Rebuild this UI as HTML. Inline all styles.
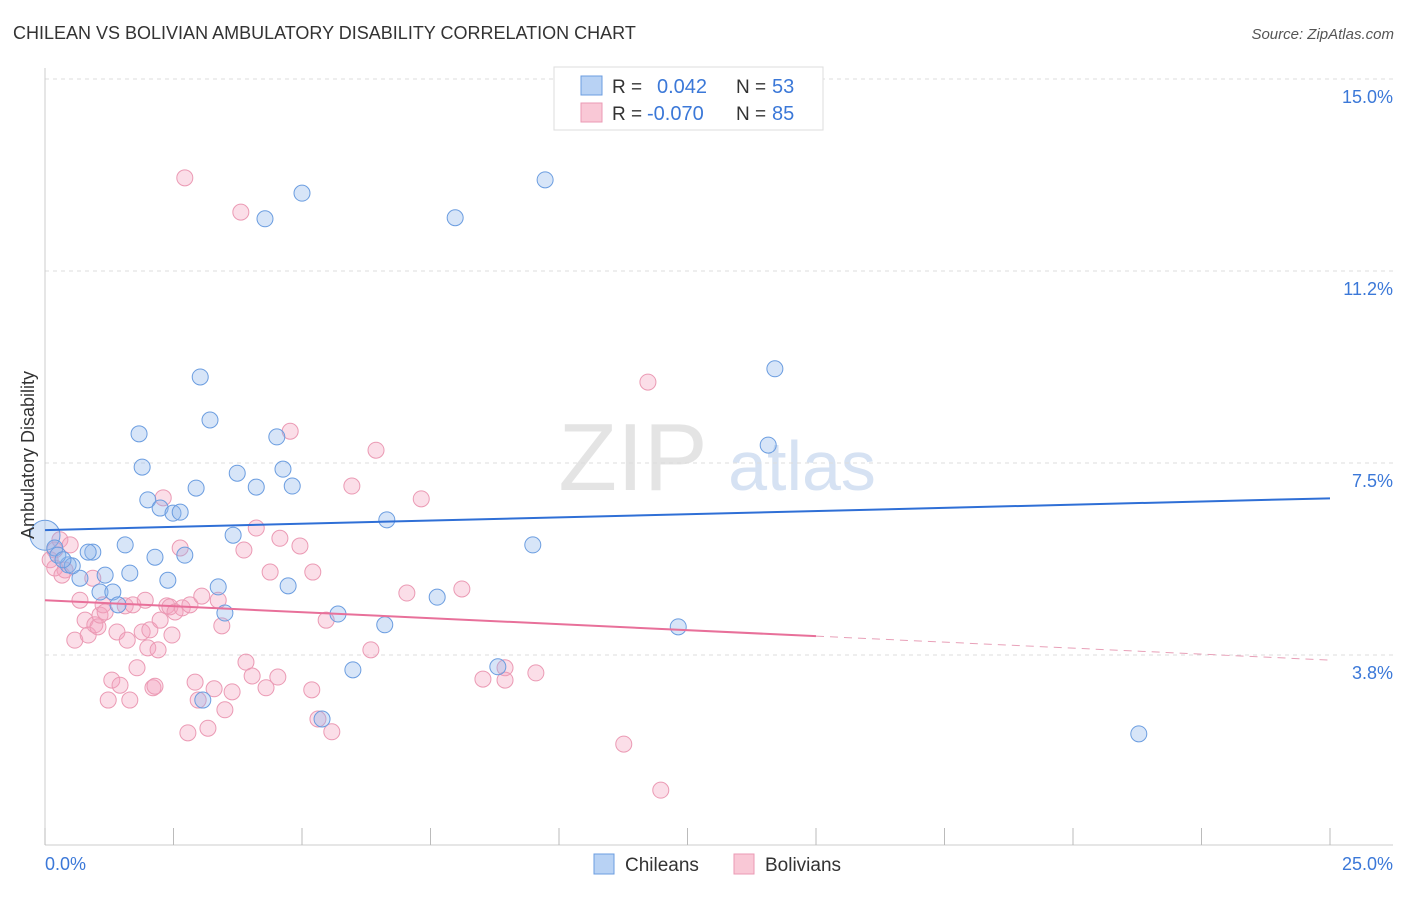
<!DOCTYPE html>
<html><head><meta charset="utf-8"><style>
body{margin:0;background:#fff;font-family:"Liberation Sans",sans-serif}
svg text{font-family:"Liberation Sans",sans-serif}
</style></head><body>
<svg id="chart" width="1406" height="892" xmlns="http://www.w3.org/2000/svg">
<text x="13" y="39" font-size="18" fill="#333">CHILEAN VS BOLIVIAN AMBULATORY DISABILITY CORRELATION CHART</text>
<text x="1394" y="39" font-size="15" font-style="italic" fill="#555" text-anchor="end">Source: ZipAtlas.com</text>
<text x="633" y="490" font-size="96" font-family="Liberation Serif" fill="#e4e4e4" text-anchor="middle">ZIP</text>
<text x="802" y="490" font-size="70" fill="#d6e2f3" text-anchor="middle">atlas</text>
<g id="grid"></g><g id="axes"></g><g id="pts"></g><g id="trend"></g>
<text transform="translate(34,455) rotate(-90)" font-size="18" fill="#333" text-anchor="middle">Ambulatory Disability</text>
<text x="45" y="870" font-size="18" fill="#3b78d8">0.0%</text>
<text x="1393" y="870" font-size="18" fill="#3b78d8" text-anchor="end">25.0%</text>
<g>
<rect x="554" y="67" width="269" height="63" fill="#fff" stroke="#ddd"/>
<rect x="581" y="76" width="21" height="19" fill="#b8d2f4" stroke="#6b9de0"/>
<rect x="581" y="103" width="21" height="19" fill="#f9c8d6" stroke="#eb9ab4"/>
<text x="612" y="93" font-size="19" fill="#333">R =</text><text x="657" y="93" font-size="20" fill="#3b78d8">0.042</text>
<text x="736" y="93" font-size="19" fill="#333">N =</text><text x="772" y="93" font-size="20" fill="#3b78d8">53</text>
<text x="612" y="120" font-size="19" fill="#333">R =</text><text x="647" y="120" font-size="20" fill="#3b78d8">-0.070</text>
<text x="736" y="120" font-size="19" fill="#333">N =</text><text x="772" y="120" font-size="20" fill="#3b78d8">85</text>
</g>
<g>
<rect x="594" y="854" width="20" height="20" fill="#b8d2f4" stroke="#6b9de0"/>
<text x="625" y="871" font-size="19" fill="#333">Chileans</text>
<rect x="734" y="854" width="20" height="20" fill="#f9c8d6" stroke="#eb9ab4"/>
<text x="765" y="871" font-size="19" fill="#333">Bolivians</text>
</g>
</svg>
<script>
const yTicks=[3.75,7.5,11.25,15];
const yTickLabels=["3.8%","7.5%","11.2%","15.0%"];
const xTicks=[0,2.5,5,7.5,10,12.5,15,17.5,20,22.5,25];
const chX=[0,0.19,0.45,0.68,0.93,1.07,1.17,1.32,1.42,1.56,1.65,1.83,1.89,2.00,2.14,2.24,2.39,2.49,2.63,2.72,2.94,3.02,3.07,3.21,3.37,3.50,3.66,3.74,4.11,4.28,4.51,4.63,4.73,4.81,5.00,5.39,5.70,5.99,6.61,6.65,7.63,7.98,8.81,9.49,9.73,12.32,14.07,14.20,21.28,0.25,0.53,0.35,0.84];
const chY=[6.09,5.84,5.51,5.25,5.76,4.98,5.31,4.98,4.73,5.90,5.35,8.07,7.42,6.78,5.66,6.62,5.21,6.52,6.54,5.70,7.01,9.18,2.87,8.34,5.08,4.57,6.09,7.30,7.03,12.27,8.01,7.38,5.10,7.05,12.77,2.50,4.55,3.46,4.34,6.39,4.88,12.29,3.52,5.90,13.03,4.30,7.85,9.34,2.21,5.70,5.49,5.61,5.76];
const boX=[0.10,0.19,0.29,0.39,0.49,0.58,0.68,0.78,0.84,0.93,0.97,1.03,1.07,1.13,1.17,1.23,1.30,1.40,1.46,1.56,1.60,1.65,1.71,1.79,1.89,1.95,2.00,2.04,2.10,2.14,2.20,2.24,2.30,2.37,2.43,2.47,2.53,2.63,2.67,2.72,2.78,2.82,2.92,2.98,3.05,3.17,3.29,3.37,3.44,3.50,3.64,3.81,3.87,3.91,4.03,4.11,4.30,4.38,4.53,4.57,4.77,4.96,5.19,5.21,5.31,5.47,5.58,5.97,6.34,6.44,7.04,7.32,8.11,8.52,8.95,8.95,9.55,11.26,11.73,11.98,0.19,0.33];
const boY=[5.61,5.80,6.00,5.41,5.90,4.04,4.82,4.43,4.14,5.25,4.34,4.30,4.53,4.73,4.59,2.87,3.26,4.20,3.16,4.71,4.04,2.87,4.73,3.50,4.20,4.82,3.89,4.24,3.11,3.14,3.85,4.43,6.82,4.71,4.69,4.14,4.59,5.84,4.67,13.07,2.23,4.73,3.22,2.87,4.90,2.32,3.09,4.82,4.32,2.68,3.03,12.40,5.80,3.61,3.34,6.23,3.11,5.37,3.32,6.03,8.12,5.88,3.07,5.37,2.50,4.43,2.25,7.05,3.85,7.75,4.96,6.80,5.04,3.28,3.50,3.26,3.40,2.01,9.08,1.11,5.45,5.31];
const blueTrend=[6.19,6.81];
const pinkTrend=[4.82,3.65];
const NS="http://www.w3.org/2000/svg";
const sx=v=>45+v*51.4, sy=v=>655-(v-3.75)*51.2;
function mk(tag,attrs,parent){const e=document.createElementNS(NS,tag);for(const k in attrs)e.setAttribute(k,attrs[k]);document.getElementById(parent).appendChild(e);return e;}
yTicks.forEach((t,i)=>{
 const l=mk('line',{x1:45,x2:1393,y1:sy(t),y2:sy(t),stroke:'#ddd','stroke-dasharray':'4,4'},'grid');
 
 
 const tx=mk('text',{x:1393,y:sy(t)+24,'font-size':18,fill:'#3b78d8','text-anchor':'end'},'grid');
 tx.textContent=yTickLabels[i];
 
 
});
const ax=mk('line',{x1:45,x2:1393,y1:845,y2:845,stroke:'#ccc'},'axes');


const ay=mk('line',{x1:45,x2:45,y1:68,y2:845,stroke:'#ccc'},'axes');


xTicks.forEach(t=>{
 const l=mk('line',{x1:sx(t),x2:sx(t),y1:828,y2:845,stroke:'#bbb'},'axes');
 
 
});
boX.forEach((x,i)=>{
 const c=mk('circle',{cx:sx(x),cy:sy(boY[i]),r:8,fill:'rgba(244,160,188,0.35)',stroke:'#eb9ab4','stroke-width':1},'pts');
 
 
});
chX.forEach((x,i)=>{
 const c=mk('circle',{cx:sx(x),cy:sy(chY[i]),r:i===0?15:8,fill:'rgba(140,180,235,0.35)',stroke:'#6b9de0','stroke-width':1},'pts');
 
 
});
const bt=mk('line',{x1:sx(0),y1:sy(blueTrend[0]),x2:sx(25),y2:sy(blueTrend[1]),stroke:'#2f6fd6','stroke-width':2},'trend');


const pm=pinkTrend[0]+(pinkTrend[1]-pinkTrend[0])*15/25;
const pt=mk('line',{x1:sx(0),y1:sy(pinkTrend[0]),x2:sx(15),y2:sy(pm),stroke:'#e8709a','stroke-width':2},'trend');


const pd=mk('line',{x1:sx(15),y1:sy(pm),x2:sx(25),y2:sy(pinkTrend[1]),stroke:'#e8a0b8','stroke-width':1,'stroke-dasharray':'8,6'},'trend');


</script>
</body></html>
